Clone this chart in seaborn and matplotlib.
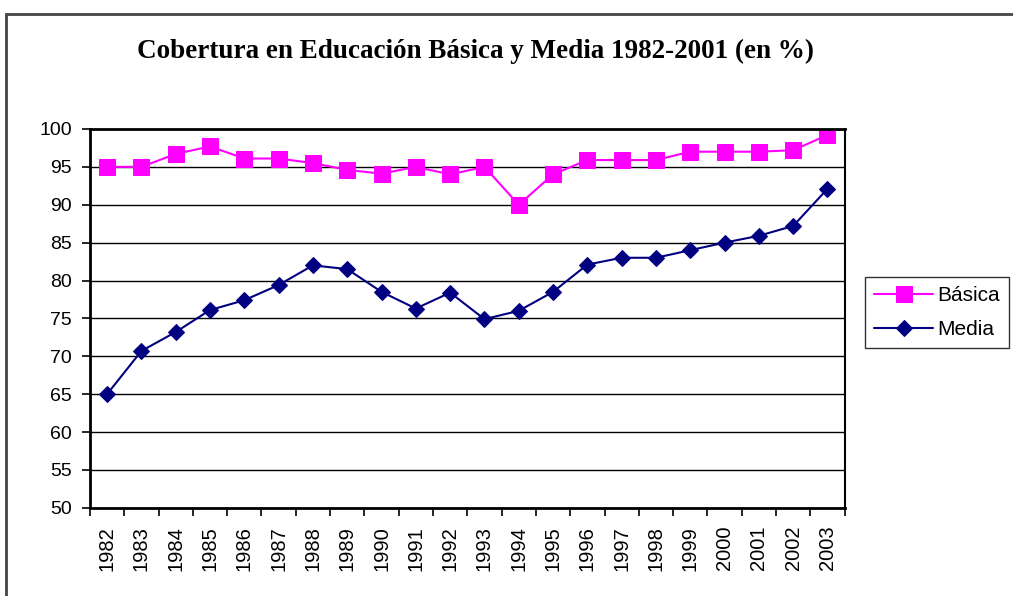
import numpy as np
import pandas as pd
import matplotlib.pyplot as plt
import matplotlib.patches as mpatches
import seaborn as sns

# ── Data ──────────────────────────────────────────────────────────────────────
years = [str(y) for y in range(1982, 2004)]
basica = [95.0, 95.0, 96.7, 97.7, 96.1, 96.1, 95.5, 94.6, 94.1, 95.0, 94.0,
          95.0, 90.0, 94.0, 95.9, 95.9, 95.9, 97.0, 97.0, 97.0, 97.2, 99.2]
media = [65.0, 70.7, 73.2, 76.1, 77.4, 79.4, 82.0, 81.5, 78.5, 76.3, 78.4,
         74.9, 76.0, 78.5, 82.1, 83.0, 83.0, 84.0, 85.0, 85.9, 87.2, 92.1]

df = pd.DataFrame({"Año": years, "Básica": basica, "Media": media})

# ── Style ─────────────────────────────────────────────────────────────────────
sns.set_theme(style="white")
plt.rcParams["font.family"] = ["Liberation Sans", "DejaVu Sans"]
plt.rcParams["text.color"] = "black"
plt.rcParams["xtick.color"] = "black"
plt.rcParams["ytick.color"] = "black"

fig = plt.figure(figsize=(10.13, 5.96), dpi=100)
ax = fig.add_axes([0.0888, 0.148, 0.745, 0.6356])

sns.lineplot(data=df, x="Año", y="Básica", ax=ax, color="#FF00FF", marker="s",
             markersize=11.5, markeredgecolor="#FF00FF", linewidth=1.5,
             label="Básica", sort=False)
sns.lineplot(data=df, x="Año", y="Media", ax=ax, color="#000080", marker="D",
             markersize=8, markeredgecolor="#000080", linewidth=1.5,
             label="Media", sort=False)

ax.set_ylim(50, 100)
ax.set_xlim(-0.5, len(years) - 0.5)
ax.set_yticks(np.arange(50, 101, 5))
ax.yaxis.grid(True, color="black", linewidth=1.0)
ax.set_axisbelow(True)
ax.set_xlabel("")
ax.set_ylabel("")

# category ticks between labels, Excel style
ax.set_xticks(np.arange(len(years)))
ax.set_xticklabels(years, rotation=90, fontsize=14.5)
ax.set_xticks(np.arange(len(years) + 1) - 0.5, minor=True)
ax.tick_params(axis="x", which="major", length=0, pad=13)
ax.tick_params(axis="x", which="minor", length=6, width=1.2, color="black",
               direction="out", bottom=True)
ax.tick_params(axis="y", length=6, width=1.2, color="black", direction="out",
               left=True, labelsize=14, pad=7)

for side in ["left", "top", "bottom"]:
    ax.spines[side].set_color("black")
    ax.spines[side].set_linewidth(2.0)
ax.spines["right"].set_color("black")
ax.spines["right"].set_linewidth(1.5)

fig.text(0.4695, 0.914, "Cobertura en Educación Básica y Media 1982-2001 (en %)",
         ha="center", va="center", fontsize=19.5, fontweight="bold",
         color="black", family=["Liberation Serif", "DejaVu Serif"])

leg = ax.legend(loc="center left", bbox_to_anchor=(1.027, 0.515), frameon=True,
                fancybox=False, edgecolor="black", fontsize=15,
                handlelength=2.8, borderpad=0.45, labelspacing=0.7,
                handletextpad=0.2, borderaxespad=0)
leg.get_frame().set_linewidth(1.0)

# outer chart border
fig.patches.append(mpatches.Rectangle((6 / 1013, -0.05), 1.2, 1 - 14 / 596 + 0.05,
                                      transform=fig.transFigure, fill=False,
                                      edgecolor="#444444", linewidth=2))

fig.savefig("out.png", dpi=100)
